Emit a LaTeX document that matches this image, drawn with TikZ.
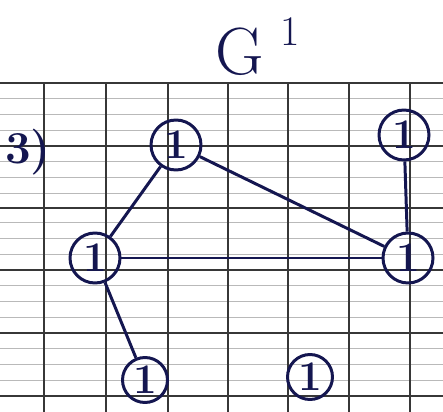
\documentclass[tikz,border=0pt]{standalone}
\usepackage{xcolor}
\usetikzlibrary{arrows,shapes,calc,positioning}
\definecolor{ink}{RGB}{20,22,80}
\definecolor{gridc}{RGB}{55,55,55}

\begin{document}
\begin{tikzpicture}[x=0.02cm, y=-0.02cm,
		vertex/.style={circle, draw=ink, line width=1.7pt, minimum size=1.0cm, inner sep=0pt, text=ink, font=\fontsize{24}{26}\selectfont\bfseries},
		edge/.style={draw=ink, line width=1.7pt},
		major/.style={gridc, line width=1.1pt},
		minor/.style={gridc!35, line width=0.5pt}]
			\useasboundingbox (0,0) rectangle (443,412);
			\fill [white] (0,0) rectangle (443,412);
			% squared paper
			\foreach \y in {98.7,114.4,130.1,161.7,177.4,193.1,222.7,238.4,254.1,285.7,301.4,317.1,348.7,364.4,380.1}
				\draw [minor] (0,\y) -- (443,\y);
			\foreach \y in {83,146,208,270,333,396}
				\draw [major] (0,\y) -- (443,\y);
			\foreach \x in {44,106,168,228,288,349,410}
				\draw [major] (\x,83) -- (\x,412);
			% title and item number
			\node [text=ink, font=\fontsize{38}{40}\selectfont] (title) at (240,52) {G};
			\node [text=ink, font=\fontsize{24}{26}\selectfont] (sup) at (290,32) {1};
			\node [text=ink, font=\fontsize{26}{28}\selectfont\bfseries] (item) at (28,152) {3)};
			% vertices
			\node [vertex] (a) at (176,145) {1};
			\node [vertex] (b) at (404,135) {1};
			\node [vertex] (c) at (95,258) {1};
			\node [vertex] (d) at (408,258) {1};
			\node [vertex, minimum size=0.9cm] (e) at (145,380) {1};
			\node [vertex, minimum size=0.9cm] (f) at (310,377) {1};
			% edges
			\draw [edge] (a) -- (c);
			\draw [edge] (a) -- (d);
			\draw [edge] (c) -- (d);
			\draw [edge] (b) -- (d);
			\draw [edge] (c) -- (e);
		\end{tikzpicture}
\end{document}
